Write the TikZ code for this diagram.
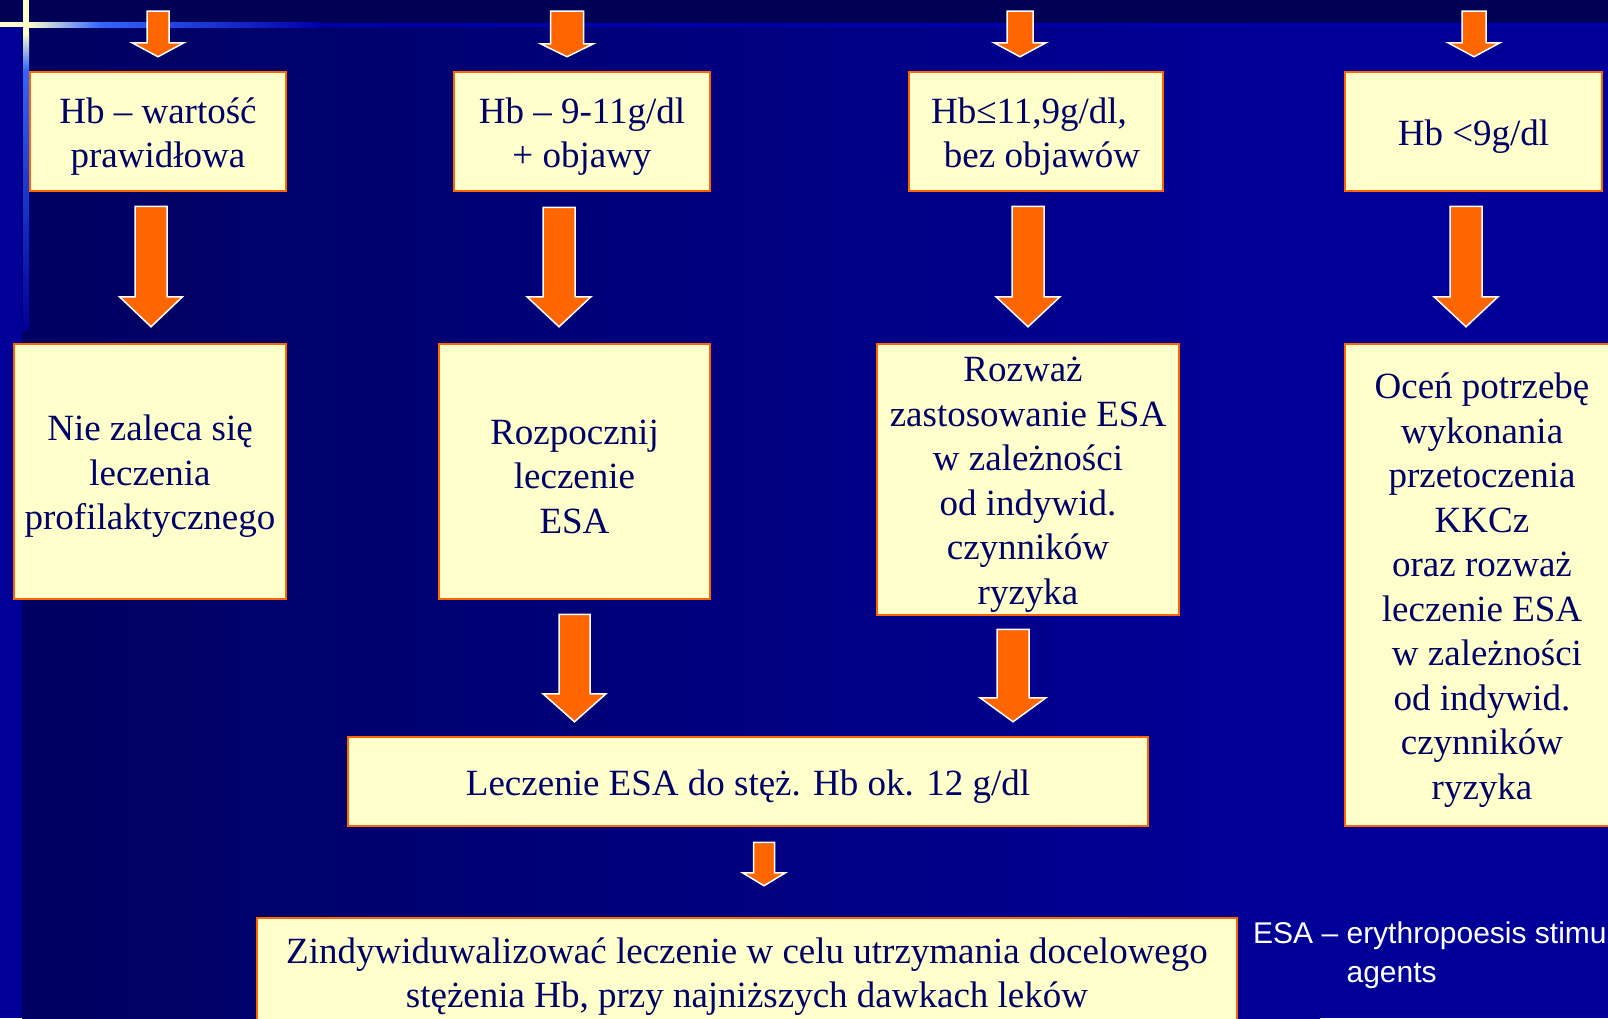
\documentclass[tikz,border=0pt]{standalone}
\usepackage{fontspec}
\setmainfont{Liberation Serif}
\newfontfamily\esaschrift{Liberation Sans}
\usetikzlibrary{calc}
\definecolor{hintergrund}{RGB}{0,0,96}
\definecolor{hintergrundhell}{RGB}{0,0,153}
\definecolor{band}{RGB}{0,0,85}
\definecolor{creme}{RGB}{255,255,204}
\definecolor{linie}{RGB}{51,102,255}
\definecolor{liniedunkel}{RGB}{0,0,170}
\definecolor{kastengelb}{RGB}{255,255,204}
\definecolor{rahmen}{RGB}{255,102,0}
\definecolor{pfeil}{RGB}{255,102,0}
\definecolor{schrift}{RGB}{0,0,102}

% Blockpfeil: #1 Anfang (gibt x), #2 Spitze (gibt y), #3 halbe Schaftbreite, #4 halbe Kopfbreite, #5 Kopflaenge
\newcommand{\blockpfeil}[5]{%
  \draw[pfeilform] let \p1=#1, \p2=#2 in
    (\x1-#3,\y1) -- (\x1+#3,\y1) -- (\x1+#3,\y2+#5) -- (\x1+#4,\y2+#5)
    -- (\x1,\y2) -- (\x1-#4,\y2+#5) -- (\x1-#3,\y2+#5) -- cycle;}

% Kasten: #1 Name, #2 Mitte, #3 Breite, #4 Hoehe, #5 Text
\newcommand{\kasten}[5]{%
  \node[kastenrahmen, minimum width=#3, minimum height=#4] (#1) at (#2) {};
  \node[kastentext] (#1text) at ([yshift=-5pt]#1.center) {#5};}

\begin{document}
\begin{tikzpicture}[x=1pt,y=-1pt,
    kastenrahmen/.style={draw=rahmen, line width=2.5pt, fill=kastengelb, inner sep=0pt},
    kastentext/.style={text=schrift, align=center, inner sep=0pt, font=\fontsize{37}{44.5}\selectfont},
    pfeilform/.style={fill=pfeil, draw=white, line width=1.5pt},
    notiz/.style={text=white, inner sep=0pt, font=\esaschrift\fontsize{30}{39}\selectfont}]

    \useasboundingbox (0,0) rectangle (1608,1018);

    % Hintergrund
    \fill[hintergrundhell] (0,0) rectangle (1608,1018);
    \shade[left color=hintergrund, right color=hintergrundhell] (22,27) rectangle (1320,1018);
    \fill[band] (0,0) rectangle (1608,23);
    \fill[liniedunkel] (0,23) rectangle (1608,27);
    \fill[creme] (0,22) rectangle (29,27);
    \shade[left color=creme, right color=linie] (29,22) rectangle (100,27);
    \shade[left color=linie, right color=liniedunkel] (100,22) rectangle (320,27);
    \fill[creme] (23,0) rectangle (29,33);
    \shade[top color=creme, bottom color=linie] (23,33) rectangle (29,70);
    \shade[top color=linie, bottom color=hintergrundhell] (23,70) rectangle (29,330);

    % Kaesten
    \kasten{a1}{158,131.5}{256pt}{119pt}{Hb – wartość\\prawidłowa}
    \kasten{a2}{582,131.5}{256pt}{119pt}{Hb – 9-11g/dl\\+ objawy}
    \kasten{a3}{1036,131.5}{254pt}{119pt}{Hb≤11,9g/dl,\hspace*{14pt}\\\hspace*{12pt}bez objawów}
    \kasten{a4}{1473.5,131.5}{257pt}{119pt}{Hb <9g/dl}

    \kasten{b1}{150,471.5}{272pt}{255pt}{Nie zaleca się\\leczenia\hspace*{10pt}\\profilaktycznego}
    \kasten{b2}{574.5,471.5}{271pt}{255pt}{Rozpocznij\\leczenie\\ESA}
    \kasten{b3}{1028,479.5}{302pt}{271pt}{Rozważ\hspace*{10pt}\\zastosowanie ESA\\w zależności\\od indywid.\\czynników\\ryzyka}
    \kasten{b4}{1482,585}{274pt}{482pt}{Oceń potrzebę\\wykonania\\przetoczenia\hspace*{10pt}\\KKCz\\oraz rozważ\\leczenie ESA\\\hspace*{10pt}w zależności\\od indywid.\\czynników\\ryzyka}

    \kasten{c}{748,781.5}{800pt}{89pt}{Leczenie ESA do stęż. Hb ok. 12 g/dl}
    \kasten{d}{747,971.5}{980pt}{107pt}{Zindywiduwalizować leczenie w celu utrzymania docelowego\\stężenia Hb, przy najniższych dawkach leków}

    \node[notiz, anchor=base west] (esa1) at (1253,943) {ESA – erythropoesis stimu};
    \node[notiz, anchor=base west] (esa2) at (1253,982) {\phantom{ESA – }agents};

    % Pfeile
    \coordinate (oben1) at (158,11);
    \coordinate (oben2) at (567,11);
    \coordinate (oben3) at (1020,11);
    \coordinate (oben4) at (1474,11);
    \blockpfeil{(oben1)}{([yshift=14pt]a1.north)}{11pt}{26pt}{14pt}
    \blockpfeil{(oben2)}{([yshift=14pt]a2.north)}{16.5pt}{26.5pt}{13pt}
    \blockpfeil{(oben3)}{([yshift=14pt]a3.north)}{13pt}{26pt}{14pt}
    \blockpfeil{(oben4)}{([yshift=14pt]a4.north)}{12pt}{26pt}{14pt}

    \blockpfeil{([xshift=-7pt,yshift=-14pt]a1.south)}{([yshift=16pt]b1.north)}{16pt}{31.5pt}{30pt}
    \blockpfeil{([xshift=-23pt,yshift=-15pt]a2.south)}{([yshift=16pt]b2.north)}{16pt}{32pt}{30pt}
    \blockpfeil{([xshift=-8pt,yshift=-14pt]a3.south)}{([yshift=16pt]b3.north)}{16pt}{32pt}{30pt}
    \blockpfeil{([xshift=-7.5pt,yshift=-14pt]a4.south)}{([yshift=16pt]b4.north)}{16pt}{32pt}{30pt}

    \blockpfeil{([yshift=-14pt]b2.south)}{([yshift=14pt]c.north)}{15.5pt}{31.5pt}{28pt}
    \blockpfeil{([xshift=-15pt,yshift=-13pt]b3.south)}{([yshift=14pt]c.north)}{16pt}{33pt}{24pt}
    \blockpfeil{([xshift=16pt,yshift=-15pt]c.south)}{([yshift=31pt]d.north)}{10.5pt}{21.5pt}{13pt}

\end{tikzpicture}
\end{document}
